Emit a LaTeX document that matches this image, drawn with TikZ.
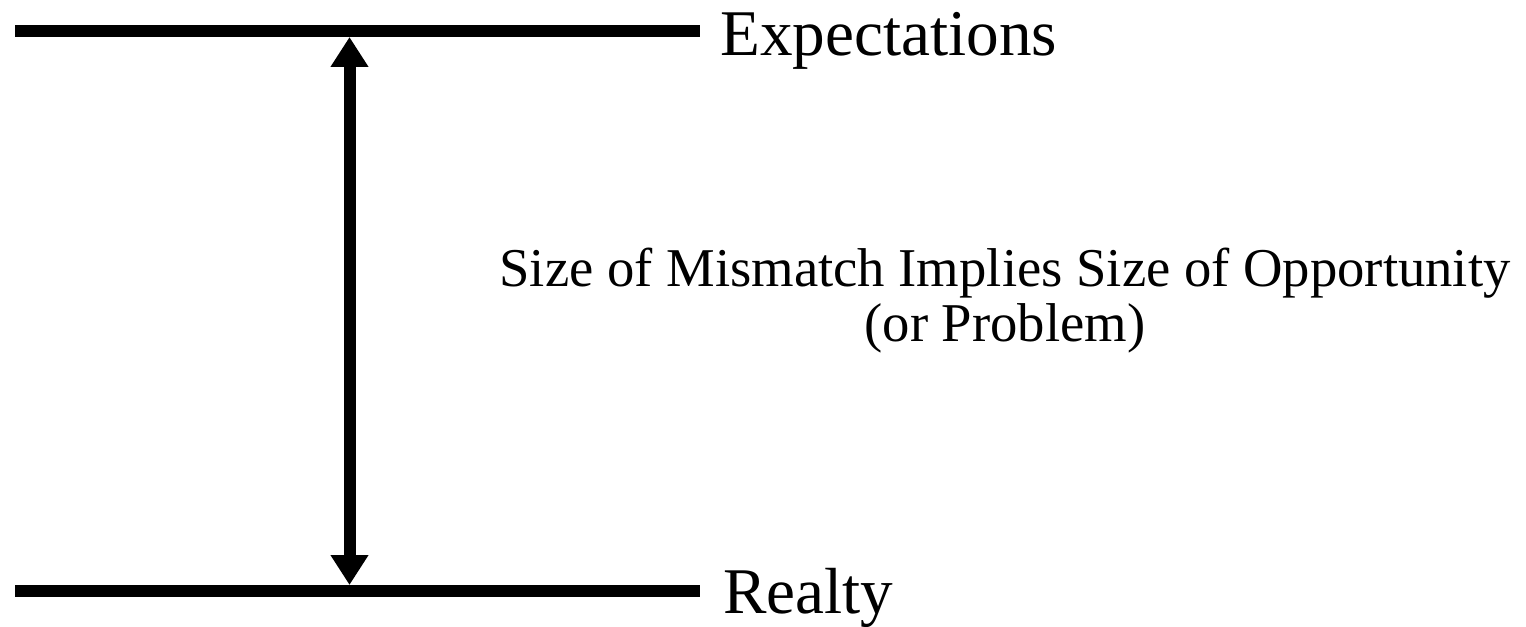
\documentclass[tikz,border=0pt]{standalone}
\usepackage{fontspec}
\setmainfont{Liberation Serif}
\usetikzlibrary{arrows.meta}
\begin{document}
\begin{tikzpicture}[x=0.75pt,y=-0.75pt,
  level/.style={line width=9pt},
  gap/.style={line width=9pt,{Triangle[length=22.5pt,width=27pt]}-{Triangle[length=22.5pt,width=27pt]}},
  biglabel/.style={anchor=base west,inner sep=0pt,font=\fontsize{48.9pt}{58pt}\selectfont},
  midlabel/.style={anchor=base,inner sep=0pt,font=\fontsize{41pt}{41.25pt}\selectfont}]
\useasboundingbox (0,0) rectangle (1526,627);
\coordinate (e1) at (15,31);
\coordinate (e2) at (700,31);
\coordinate (r1) at (15,591);
\coordinate (r2) at (700,591);
\coordinate (atop) at (349.5,37);
\coordinate (abot) at (349.5,585);
\draw[level] (e1) -- (e2);
\draw[level] (r1) -- (r2);
\draw[gap] (atop) -- (abot);
\node[biglabel] (exp) at (720,56) {Expectations};
\node[biglabel] (real) at (723,613) {Realty};
\node[midlabel] (mid) at (1005,286) {\fontsize{41pt}{41.25pt}\selectfont\begin{tabular}[t]{@{}c@{}}Size of Mismatch Implies Size of Opportunity\\(or Problem)\end{tabular}};
\end{tikzpicture}
\end{document}
